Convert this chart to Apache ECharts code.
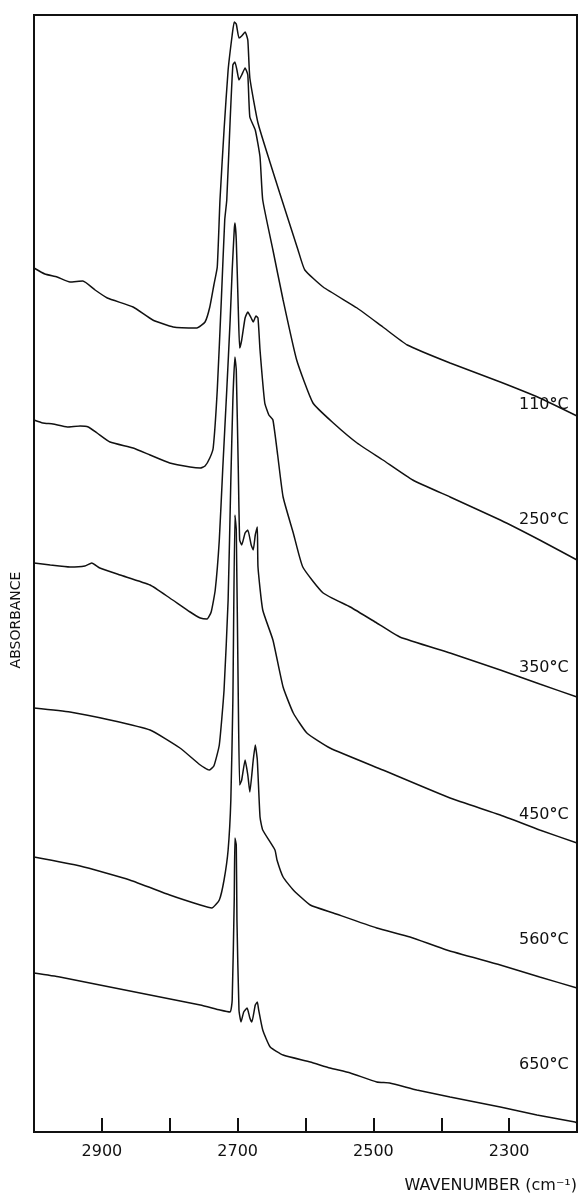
<!DOCTYPE html>
<html>
<head>
<meta charset="utf-8">
<script src="https://cdn.jsdelivr.net/npm/echarts@6/dist/echarts.min.js"></script>
<style>
html,body{margin:0;padding:0;background:#fff;}
#chart{width:580px;height:1193px;}
</style>
</head>
<body>
<div id="chart"></div>
<script>
// Wavenumber (cm-1) and stacked absorbance (arbitrary, offset) for each spectrum
var labels = ['110°C', '250°C', '350°C', '450°C', '560°C', '650°C'];

var wn110 = [3000,2984,2966,2947,2928,2910,2892,2854,2825,2795,2760,2748,2741,2735,2730,2726,2720,2714,2708,2705,2702,2698,2694,2689,2685,2682,2670,2652,2638,2611,2601,2574,2524,2486,2450,2387,2313,2255,2200];
var ab110 = [8.64,8.58,8.55,8.50,8.51,8.42,8.34,8.25,8.12,8.05,8.04,8.10,8.25,8.47,8.65,9.32,10.02,10.62,10.97,11.10,11.08,10.94,10.96,11.00,10.92,10.54,10.09,9.69,9.39,8.82,8.62,8.45,8.24,8.05,7.87,7.69,7.50,7.34,7.16];

var wn250 = [3000,2987,2972,2951,2932,2920,2907,2888,2854,2829,2800,2770,2755,2748,2741,2736,2730,2724,2719,2716,2711,2707,2704,2701,2698,2694,2689,2685,2682,2674,2667,2663,2648,2633,2613,2589,2559,2524,2486,2442,2387,2313,2255,2200];
var ab250 = [7.12,7.09,7.08,7.05,7.06,7.05,6.99,6.90,6.84,6.77,6.69,6.65,6.64,6.66,6.74,6.84,7.42,8.32,9.12,9.32,10.12,10.67,10.70,10.62,10.52,10.57,10.64,10.57,10.15,10.02,9.75,9.32,8.82,8.32,7.72,7.29,7.09,6.89,6.72,6.52,6.35,6.12,5.92,5.72];

var wn350 = [3000,2976,2947,2925,2915,2903,2873,2829,2800,2770,2755,2745,2739,2733,2727,2722,2716,2711,2708,2705,2704,2702,2699,2697,2694,2689,2685,2680,2677,2673,2670,2667,2660,2654,2648,2641,2633,2618,2604,2574,2534,2495,2461,2387,2313,2255,2200];
var ab350 = [5.69,5.67,5.65,5.66,5.69,5.64,5.57,5.47,5.34,5.20,5.14,5.13,5.20,5.42,5.92,6.62,7.42,8.12,8.62,9.02,9.09,8.92,8.22,7.84,7.92,8.14,8.20,8.14,8.10,8.16,8.14,7.82,7.29,7.17,7.12,6.77,6.35,5.99,5.65,5.39,5.25,5.09,4.95,4.79,4.62,4.48,4.35];

var wn450 = [3000,2947,2888,2829,2785,2755,2742,2735,2727,2720,2714,2710,2707,2704,2702,2699,2697,2694,2689,2685,2680,2677,2674,2671,2670,2663,2648,2633,2618,2598,2564,2486,2387,2313,2255,2200];
var ab450 = [4.24,4.20,4.12,4.02,3.84,3.67,3.62,3.66,3.87,4.42,5.32,6.52,7.32,7.75,7.62,6.62,5.92,5.87,5.99,6.02,5.87,5.82,5.97,6.05,5.65,5.22,4.92,4.45,4.19,3.99,3.84,3.62,3.34,3.17,3.02,2.89];

var wn560 = [3000,2932,2859,2800,2755,2738,2727,2720,2714,2710,2707,2704,2702,2699,2697,2694,2689,2685,2682,2677,2674,2671,2667,2663,2645,2642,2633,2618,2593,2559,2495,2446,2392,2313,2255,2200];
var ab560 = [2.75,2.66,2.52,2.37,2.27,2.24,2.32,2.52,2.82,3.32,4.32,6.17,6.02,4.32,3.47,3.52,3.72,3.57,3.40,3.72,3.87,3.72,3.15,3.02,2.82,2.72,2.55,2.42,2.27,2.19,2.04,1.95,1.82,1.67,1.55,1.44];

var wn650 = [3000,2962,2903,2829,2755,2726,2711,2708,2705,2704,2702,2701,2698,2695,2691,2686,2682,2679,2674,2671,2669,2663,2652,2633,2593,2564,2534,2495,2476,2436,2387,2313,2259,2203,2200];
var ab650 = [1.59,1.55,1.47,1.37,1.27,1.22,1.20,1.32,2.32,2.94,2.87,2.12,1.22,1.10,1.20,1.24,1.14,1.10,1.27,1.30,1.22,1.02,0.85,0.77,0.70,0.64,0.59,0.50,0.49,0.42,0.35,0.25,0.17,0.10,0.09];

var xTicksLabelled = [2900, 2700, 2500, 2300];

var spectra = [
  [wn110, ab110], [wn250, ab250], [wn350, ab350],
  [wn450, ab450], [wn560, ab560], [wn650, ab650]
];
// label anchor y positions (absorbance units) near right edge
var labelY = [405, 520, 668, 815, 940, 1065];

function pairs(xs, ys) { return xs.map(function (x, i) { return [x, ys[i]]; }); }

var chart = echarts.init(document.getElementById('chart'), null, {renderer: 'canvas'});
var FONT = '"DejaVu Sans", sans-serif';

var series = spectra.map(function (s, i) {
  return {
    type: 'line',
    name: labels[i],
    data: pairs(s[0], s[1]),
    showSymbol: false,
    symbol: 'none',
    smooth: 0.15,
    animation: false,
    lineStyle: {color: '#111', width: 1.5}
  };
});

var graphics = labels.map(function (t, i) {
  var num = t.replace('°C', '');
  return {
    type: 'text',
    x: 519, y: labelY[i],
    style: {
      text: '{n|' + num + '}{d|°}{n|C}',
      textVerticalAlign: 'middle',
      rich: {
        n: {fontFamily: FONT, fontSize: 16, fill: '#111'},
        d: {fontFamily: FONT, fontSize: 16, fontWeight: 'bold', fill: '#111'}
      }
    }
  };
});
graphics.push({
  type: 'text',
  x: 16, y: 620,
  rotation: Math.PI / 2,
  style: {
    text: 'ABSORBANCE', fontFamily: FONT, fontSize: 14, fill: '#111',
    textAlign: 'center', textVerticalAlign: 'middle'
  }
});
graphics.push({
  type: 'text',
  x: 577, y: 1186,
  style: {
    text: 'WAVENUMBER (cm⁻¹)', fontFamily: FONT, fontSize: 16, fill: '#111',
    textAlign: 'right', textVerticalAlign: 'middle'
  }
});

chart.setOption({
  backgroundColor: '#fff',
  animation: false,
  grid: {left: 34, right: 3, top: 15, bottom: 61, show: true, borderColor: '#111', borderWidth: 2, backgroundColor: 'transparent'},
  xAxis: {
    type: 'value', min: 2200, max: 3000, interval: 100, inverse: true,
    axisLine: {show: true, lineStyle: {color: '#111', width: 2}},
    axisTick: {show: true, inside: true, length: 14, lineStyle: {color: '#111', width: 2}},
    splitLine: {show: false},
    axisLabel: {
      show: true, margin: 12, fontFamily: FONT, fontSize: 16, color: '#111',
      showMinLabel: false, showMaxLabel: false,
      formatter: function (v) { return xTicksLabelled.indexOf(v) >= 0 ? String(v) : ''; }
    }
  },
  yAxis: {
    type: 'value', min: 0, max: 11.17, show: false, splitLine: {show: false}
  },
  series: series,
  graphic: graphics
});
</script>
</body>
</html>
